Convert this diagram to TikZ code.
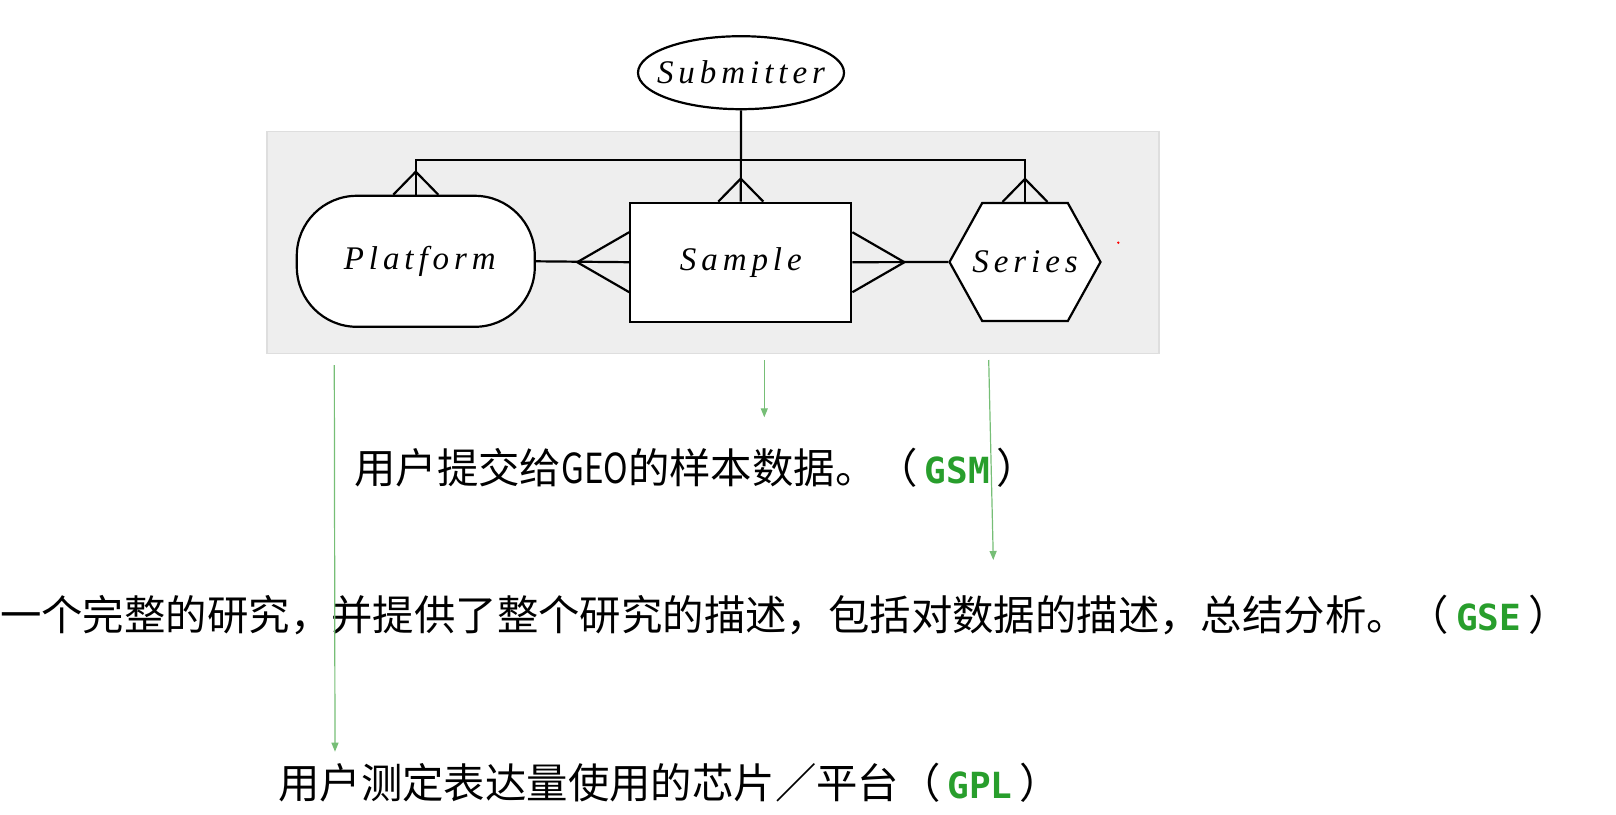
\documentclass[tikz,border=0pt]{standalone}
\usepackage{fontspec}
\usepackage{tikz}
\usetikzlibrary{calc,shapes.geometric,shapes.symbols,arrows.meta}
\setmainfont{Liberation Serif}
\newfontfamily\erfont{Liberation Serif}[LetterSpace=15]
\newfontfamily\cjk{Noto Sans CJK SC}
\newfontfamily\codefont{DejaVu Sans Mono}
\definecolor{boxgray}{RGB}{238,238,238}
\definecolor{boxedge}{RGB}{222,222,222}
\definecolor{codegreen}{RGB}{40,158,44}
\definecolor{arrowgreen}{RGB}{118,190,118}
\newcommand{\code}[1]{\hspace{7pt}{\codefont\bfseries\color{codegreen}\fontsize{36}{40}\selectfont #1}\hspace{7pt}}

\begin{document}
\begin{tikzpicture}[x=1pt,y=-1pt,
  er/.style={draw,line width=2.2pt,fill=white,inner sep=0pt,font=\erfont\itshape\fontsize{33}{40}\selectfont},
  link/.style={line width=2.2pt},
  note/.style={inner sep=0pt,anchor=base west,font=\cjk\fontsize{41.4}{50}\selectfont},
  pointer/.style={arrowgreen,line width=1.2pt,-{Triangle[length=9pt,width=7pt]}}
  ]
\def\fw{22.5}
\def\fh{23}
\def\sw{30}
\def\sd{52}
\useasboundingbox (0,0) rectangle (1616,814);
\node[draw=boxedge,fill=boxgray,line width=1.5pt,minimum width=892pt,minimum height=222pt,inner sep=0pt] (frame) at (713,242.5) {};
\node[er,ellipse,minimum width=206pt,minimum height=73pt] (Submitter) at (741,72.7) {\makebox[0pt]{Submitter}};
\node[er,rectangle,rounded corners=60pt,minimum width=238pt,minimum height=131pt] (Platform) at (415.8,261.3) {\hspace{8pt}Platform};
\node[er,rectangle,minimum width=221pt,minimum height=119pt] (Sample) at (740.8,262.2) {Sample};
\node[er,signal,signal to=east and west,signal pointer angle=122,minimum width=151pt,minimum height=118pt] (Series) at (1025,262) {\makebox[0pt]{Series}};
\coordinate (bus) at (741,160);
\fill[red] (1118.3,242.7) circle (1.3pt);
% submitter to the three tables
\draw[link] (Submitter.south) -- (Sample.north);
\draw[link] (Platform.north) -- (Platform.north |- bus) -- (Series.north |- bus) -- (Series.north);
\draw[link] ($(Platform.north)+(-\fw,0)$) -- ($(Platform.north)+(0,-\fh)$) -- ($(Platform.north)+(\fw,0)$);
\draw[link] ($(Sample.north)+(-\fw,0)$) -- ($(Sample.north)+(0,-\fh)$) -- ($(Sample.north)+(\fw,0)$);
\draw[link] ($(Series.north)+(-\fw,0)$) -- ($(Series.north)+(0,-\fh)$) -- ($(Series.north)+(\fw,0)$);
% platform - sample - series
\draw[link] (Platform.east) -- (Sample.west);
\draw[link] (Sample.east) -- (Series.west);
\draw[link] ($(Sample.west)+(0,-\sw)$) -- ($(Sample.west)+(-\sd,0)$) -- ($(Sample.west)+(0,\sw)$);
\draw[link] ($(Sample.east)+(0,-\sw)$) -- ($(Sample.east)+(\sd,0)$) -- ($(Sample.east)+(0,\sw)$);
% notes
\node[note] (gsm) at (354,483) {用户提交给\scalebox{0.8}[1]{GEO}的样本数据。（\code{GSM}）};
\node[note] (gse) at (0,630) {一个完整的研究，并提供了整个研究的描述，包括对数据的描述，总结分析。（\code{GSE}）};
\node[note] (gpl) at (278,798) {用户测定表达量使用的芯片／平台（\code{GPL}）};
\coordinate (platformOut) at (334.3,365);
\coordinate (platformIn) at (335,751.7);
\coordinate (sampleOut) at (764.3,360);
\coordinate (sampleIn) at (764.3,417.3);
\coordinate (seriesOut) at (988.7,360);
\coordinate (seriesIn) at (993.3,560);
\draw[pointer] (platformOut) -- (platformIn);
\draw[pointer] (sampleOut) -- (sampleIn);
\draw[pointer] (seriesOut) -- (seriesIn);
\end{tikzpicture}
\end{document}
